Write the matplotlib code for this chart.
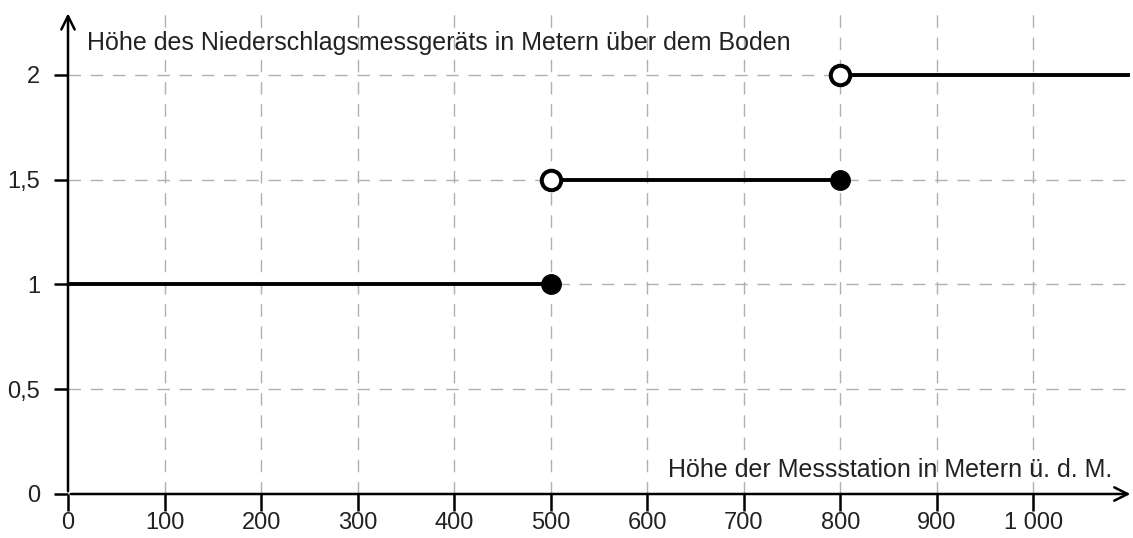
import matplotlib
matplotlib.use("Agg")
import matplotlib.pyplot as plt

plt.rcParams['font.family'] = ['Liberation Sans', 'DejaVu Sans']

# Stufenfunktion: Höhe des Messgeräts je nach Seehöhe
seg_x0 = [0, 500, 800]
seg_x1 = [500, 800, 1100]
seg_y = [1, 1.5, 2]
open_x = [500, 800]
open_y = [1.5, 2]
closed_x = [500, 800]
closed_y = [1, 1.5]

xticks = [0, 100, 200, 300, 400, 500, 600, 700, 800, 900, 1000]
xlabels = ["0", "100", "200", "300", "400", "500", "600", "700", "800", "900", "1 000"]
yticks = [0, 0.5, 1, 1.5, 2]
ylabels = ["0", "0,5", "1", "1,5", "2"]

fig = plt.figure(figsize=(11.33, 5.38), dpi=100)
ax = fig.add_axes([68/1133, 44/538, (1130-68)/1133, (494-12)/538])
ax.set_xlim(0, 1100)
ax.set_ylim(0, 2.3)

# Gitter
for xv in xticks[1:]:
    ax.plot([xv, xv], [0, 2.3], color="#b0b0b0", lw=1, dashes=(9, 7), zorder=1)
for yv in yticks[1:]:
    ax.plot([0, 1100], [yv, yv], color="#b0b0b0", lw=1, dashes=(9, 7), zorder=1)

for a, b, y in zip(seg_x0, seg_x1, seg_y):
    ax.plot([a, b], [y, y], color="black", lw=2.8, zorder=3, solid_capstyle="butt")
ax.plot(closed_x, closed_y, "o", ms=14, color="black", zorder=4)
ax.plot(open_x, open_y, "o", ms=14, mfc="white", mec="black", mew=2.9, zorder=4)

for s in ax.spines.values():
    s.set_visible(False)
arrow = dict(arrowstyle="->", lw=1.8, color="black", mutation_scale=24)
ax.annotate("", xy=(1.003, 0), xytext=(0, 0), xycoords="axes fraction", arrowprops=arrow)
ax.annotate("", xy=(0, 1.003), xytext=(0, 0), xycoords="axes fraction", arrowprops=arrow)

ax.set_xticks(xticks, xlabels)
ax.set_yticks(yticks, ylabels)
ax.tick_params(axis="x", direction="out", length=12, width=1.8, labelsize=17, pad=1, colors="black")
ax.tick_params(axis="y", direction="out", length=10, width=1.8, labelsize=17, pad=10, colors="black")
for lbl in ax.get_xticklabels() + ax.get_yticklabels():
    lbl.set_color("#222222")

ax.text(20, 2.15, "Höhe des Niederschlagsmessgeräts in Metern über dem Boden",
        fontsize=18, va="center", ha="left", color="#222222")
ax.text(1082, 0.115, "Höhe der Messstation in Metern ü. d. M.",
        fontsize=18, va="center", ha="right", color="#222222")

fig.savefig("out.png", dpi=100)
